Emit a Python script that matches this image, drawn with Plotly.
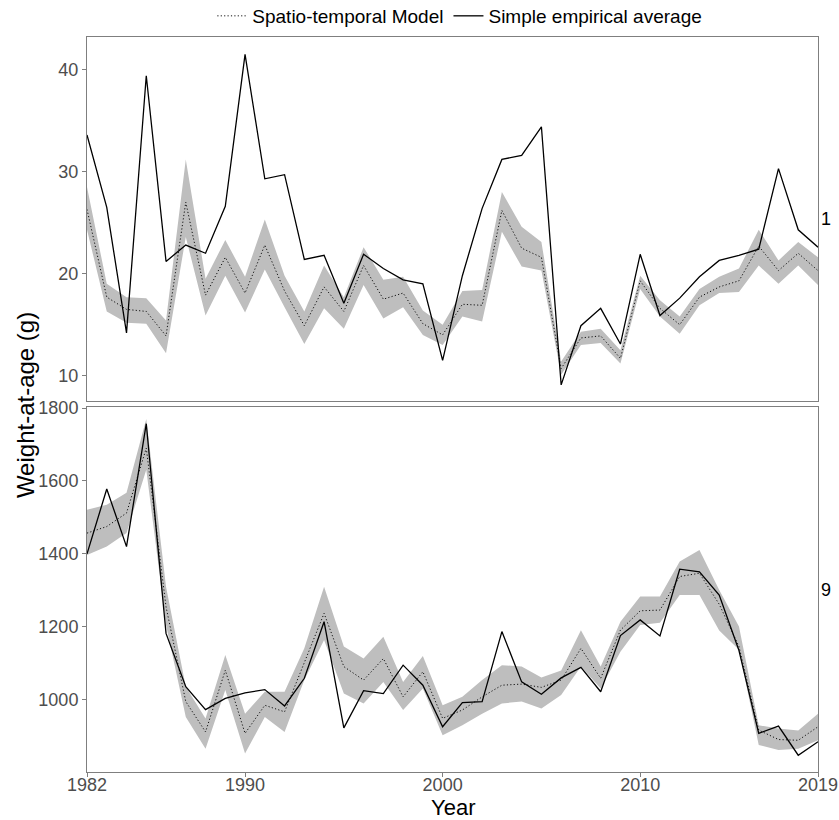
import plotly.graph_objects as go

years = list(range(1982, 2020))

# Age 1
age1_emp = [33.6, 26.5, 14.2, 39.4, 21.2, 22.8, 22.0, 26.6, 41.5, 29.3,
            29.7, 21.4, 21.8, 17.1, 21.9, 20.5, 19.4, 19.0, 11.5, 19.8,
            26.4, 31.2, 31.6, 34.4, 9.1, 14.9, 16.6, 13.1, 21.9, 15.9,
            17.6, 19.7, 21.3, 21.8, 22.4, 30.3, 24.3, 22.6]
age1_mean = [26.3, 17.7, 16.5, 16.3, 13.9, 27.0, 17.9, 21.6, 18.1, 22.8,
             18.3, 14.9, 18.7, 16.3, 20.8, 17.5, 18.1, 15.1, 14.0, 17.0,
             16.9, 26.2, 22.5, 21.6, 10.7, 13.7, 13.9, 11.7, 19.3, 16.6,
             15.0, 17.7, 18.7, 19.3, 22.7, 20.3, 22.0, 20.3]
age1_lo = [24.3, 16.3, 15.2, 15.1, 12.2, 23.6, 15.9, 19.8, 16.2, 20.4,
           16.7, 13.1, 16.6, 14.6, 18.9, 15.6, 16.7, 14.0, 13.0, 15.8,
           15.3, 24.1, 20.7, 20.3, 10.1, 13.0, 13.2, 11.2, 18.5, 15.8,
           14.1, 16.9, 18.1, 18.2, 20.8, 19.0, 20.8, 18.9]
age1_hi = [28.5, 19.0, 17.7, 17.6, 15.4, 31.2, 19.5, 23.3, 19.7, 25.3,
           19.8, 16.3, 20.8, 17.7, 22.6, 19.4, 19.7, 16.4, 15.0, 18.3,
           18.4, 28.0, 24.6, 23.1, 11.4, 14.3, 14.6, 12.5, 19.8, 17.4,
           15.8, 18.5, 19.7, 20.5, 24.3, 21.3, 23.1, 21.6]

# Age 9
age9_emp = [1400, 1578, 1420, 1757, 1182, 1036, 973, 1004, 1019, 1028,
            983, 1059, 1214, 923, 1025, 1017, 1095, 1040, 926, 992,
            995, 1187, 1049, 1015, 1060, 1089, 1022, 1176, 1219, 1175,
            1358, 1351, 1287, 1135, 908, 928, 848, 885]
age9_mean = [1457, 1475, 1512, 1690, 1255, 995, 912, 1081, 908, 985,
             967, 1100, 1237, 1091, 1054, 1113, 1008, 1077, 949, 972,
             1008, 1040, 1043, 1034, 1054, 1141, 1059, 1191, 1244, 1246,
             1338, 1347, 1262, 1146, 917, 891, 889, 926]
age9_lo = [1397, 1420, 1457, 1631, 1205, 953, 866, 1027, 853, 953,
           912, 1054, 1164, 1017, 990, 1049, 972, 1031, 903, 930,
           962, 990, 995, 976, 1013, 1091, 1031, 1132, 1205, 1211,
           1287, 1287, 1190, 1137, 876, 862, 866, 889]
age9_hi = [1521, 1535, 1568, 1770, 1310, 1036, 949, 1123, 962, 1022,
           1022, 1141, 1310, 1146, 1113, 1173, 1049, 1120, 985, 1008,
           1054, 1095, 1091, 1061, 1080, 1191, 1091, 1214, 1283, 1283,
           1379, 1411, 1301, 1201, 930, 921, 916, 962]

x_ticks = [1982, 1990, 2000, 2010, 2019]

FONT = "Liberation Sans, Arial, Helvetica, sans-serif"
BAND = "#bebebe"
DOT = "1.2px,2.2px"

fig = go.Figure()

def add_panel(xa, ya, emp, mean, lo, hi, show):
    fig.add_trace(go.Scatter(x=years, y=lo, mode="lines", line=dict(width=0),
                             hoverinfo="skip", showlegend=False, xaxis=xa, yaxis=ya))
    fig.add_trace(go.Scatter(x=years, y=hi, mode="lines", line=dict(width=0),
                             fill="tonexty", fillcolor=BAND, hoverinfo="skip",
                             showlegend=False, xaxis=xa, yaxis=ya))
    fig.add_trace(go.Scatter(x=years, y=mean, mode="lines",
                             line=dict(color="#111111", width=1, dash=DOT),
                             name="Spatio-temporal Model", legendgroup="m",
                             showlegend=show, xaxis=xa, yaxis=ya))
    fig.add_trace(go.Scatter(x=years, y=emp, mode="lines",
                             line=dict(color="black", width=1.3),
                             name="Simple empirical average", legendgroup="e",
                             showlegend=show, xaxis=xa, yaxis=ya))

add_panel("x", "y", age1_emp, age1_mean, age1_lo, age1_hi, True)
add_panel("x2", "y2", age9_emp, age9_mean, age9_lo, age9_hi, False)

axis_common = dict(showgrid=False, zeroline=False, showline=True, mirror=True,
                   linecolor="#7f7f7f", linewidth=1, ticklen=4, automargin=False,
                   tickcolor="#7f7f7f", tickfont=dict(family=FONT, size=18, color="#4d4d4d"))

fig.update_layout(
    width=839, height=820,
    margin=dict(l=87, r=21, t=37, b=48, autoexpand=False),
    plot_bgcolor="white", paper_bgcolor="white",
    font=dict(family=FONT, color="black"),
    xaxis=dict(domain=[0, 1], anchor="y", range=[1982, 2019], tickvals=x_ticks,
               showticklabels=False, ticks="", **axis_common),
    yaxis=dict(domain=[0.5052, 1.0], anchor="x", range=[7.55, 43.2],
               tickvals=[10, 20, 30, 40], ticks="outside", **axis_common),
    xaxis2=dict(domain=[0, 1], anchor="y2", range=[1982, 2019], tickvals=x_ticks,
                ticks="outside", ticklabelstandoff=-8, **axis_common),
    yaxis2=dict(domain=[0, 0.4962], anchor="x2", range=[802, 1802],
                tickvals=[1000, 1200, 1400, 1600, 1800], ticks="outside", **axis_common),
    legend=dict(orientation="h", x=0.51, xanchor="center", y=1.0286, yanchor="middle",
                font=dict(family=FONT, size=19, color="black"), bgcolor="rgba(0,0,0,0)",
                itemwidth=30, tracegroupgap=0),
    annotations=[
        dict(text="Weight-at-age (g)", textangle=-90, xref="paper", yref="paper",
             x=-0.085, y=0.499, xanchor="center", yanchor="middle", showarrow=False,
             font=dict(family=FONT, size=24, color="black")),
        dict(text="Year", xref="paper", yref="paper", x=0.501, y=-0.0482,
             xanchor="center", yanchor="middle", showarrow=False,
             font=dict(family=FONT, size=22, color="black")),
        dict(text="1", xref="paper", yref="paper", x=1.011, y=0.752,
             xanchor="center", yanchor="middle", showarrow=False,
             font=dict(family=FONT, size=18, color="black")),
        dict(text="9", xref="paper", yref="paper", x=1.011, y=0.248,
             xanchor="center", yanchor="middle", showarrow=False,
             font=dict(family=FONT, size=18, color="black")),
    ],
)

fig.write_html("out.html")
